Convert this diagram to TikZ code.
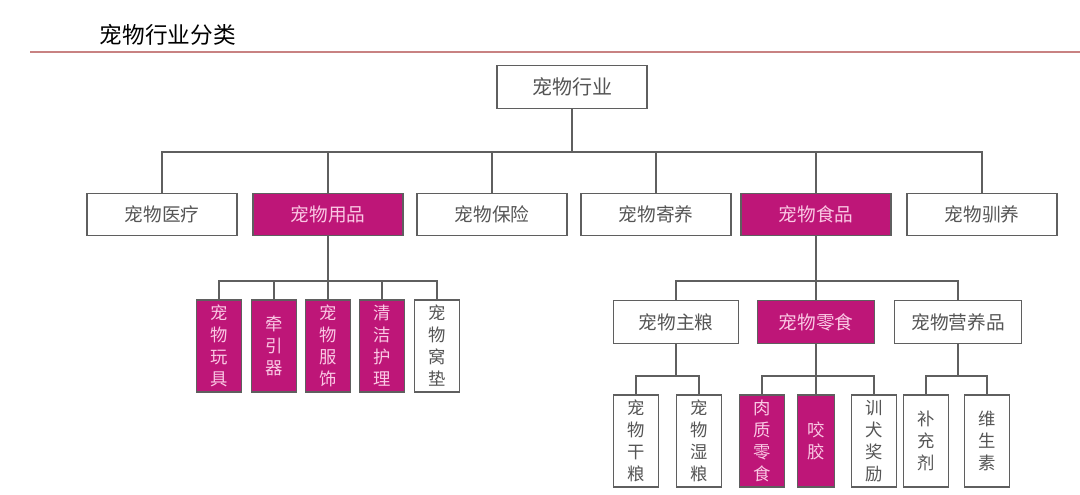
\documentclass[tikz,border=0pt]{standalone}
\usepackage{fontspec}
\setmainfont{Noto Sans CJK SC}
\definecolor{petred}{RGB}{190,22,120}
\definecolor{petpink}{RGB}{250,200,228}
\definecolor{pettext}{RGB}{85,85,85}
\definecolor{petedge}{RGB}{95,95,95}
\definecolor{petrule}{RGB}{200,130,130}
\begin{document}
\begin{tikzpicture}[x=0.75pt, y=-0.75pt, line width=0.8pt,
  box/.style={draw=petedge, fill=white, text=pettext, inner sep=0pt,
    minimum height=32pt, font=\fontsize{14}{16}\selectfont},
  hibox/.style={box, fill=petred, text=petpink},
  vbox/.style={draw=petedge, fill=white, text=pettext, inner sep=0pt,
    minimum width=33.75pt, minimum height=69pt, align=center,
    font=\fontsize{13}{16.5}\selectfont},
  hivbox/.style={vbox, fill=petred, text=petpink},
  link/.style={draw=petedge}]
  \useasboundingbox (0,0) rectangle (1080,495);
  % title and rule
  \node[anchor=west, font=\fontsize{17}{20}\selectfont] (title) at (95,35) {宠物行业分类};
  \draw[petrule, line width=1.5pt] (30,52) -- (1080,52);
  % root
  \node[box, minimum width=112.5pt, font=\fontsize{15}{17}\selectfont] (root) at (572,87) {宠物行业};
  % level 1
  \node[box, minimum width=112.5pt] (med) at (162,214.5) {宠物医疗};
  \node[hibox, minimum width=112.5pt] (sup) at (328,214.5) {宠物用品};
  \node[box, minimum width=112.5pt] (ins) at (492,214.5) {宠物保险};
  \node[box, minimum width=112.5pt] (board) at (656,214.5) {宠物寄养};
  \node[hibox, minimum width=112.5pt] (food) at (816,214.5) {宠物食品};
  \node[box, minimum width=112.5pt] (train) at (982,214.5) {宠物驯养};
  % supplies
  \node[hivbox] (toy) at (219,346) {宠\\物\\玩\\具};
  \node[hivbox] (leash) at (274,346) {牵\\引\\器};
  \node[hivbox] (cloth) at (328,346) {宠\\物\\服\\饰};
  \node[hivbox] (clean) at (382,346) {清\\洁\\护\\理};
  \node[vbox] (bed) at (437,346) {宠\\物\\窝\\垫};
  % food
  \node[box, minimum width=93.75pt] (staple) at (676,322) {宠物主粮};
  \node[hibox, minimum width=87.75pt] (snack) at (816,322) {宠物零食};
  \node[box, minimum width=95.25pt] (nutri) at (958,322) {宠物营养品};
  \node[vbox] (dry) at (636,441) {宠\\物\\干\\粮};
  \node[vbox] (wet) at (699,441) {宠\\物\\湿\\粮};
  \node[hivbox] (meat) at (762,441) {肉\\质\\零\\食};
  \node[hivbox, minimum width=27.75pt] (chew) at (816,441) {咬\\胶};
  \node[vbox] (reward) at (874,441) {训\\犬\\奖\\励};
  \node[vbox] (supp) at (926,441) {补\\充\\剂};
  \node[vbox] (vita) at (987,441) {维\\生\\素};
  % bus points
  \coordinate (busroot) at (572,152);
  \coordinate (bussup) at (328,281);
  \coordinate (busfood) at (816,281);
  \coordinate (busstaple) at (676,376);
  \coordinate (bussnack) at (816,376);
  \coordinate (busnutri) at (958,376);
  % connectors
  \foreach \c in {med,sup,ins,board,food,train}
    \draw[link] (root.south) -- (busroot) -| (\c.north);
  \foreach \c in {toy,leash,cloth,clean,bed}
    \draw[link] (sup.south) -- (bussup) -| (\c.north);
  \foreach \c in {staple,snack,nutri}
    \draw[link] (food.south) -- (busfood) -| (\c.north);
  \foreach \c in {dry,wet}
    \draw[link] (staple.south) -- (busstaple) -| (\c.north);
  \foreach \c in {meat,chew,reward}
    \draw[link] (snack.south) -- (bussnack) -| (\c.north);
  \foreach \c in {supp,vita}
    \draw[link] (nutri.south) -- (busnutri) -| (\c.north);
\end{tikzpicture}
\end{document}
